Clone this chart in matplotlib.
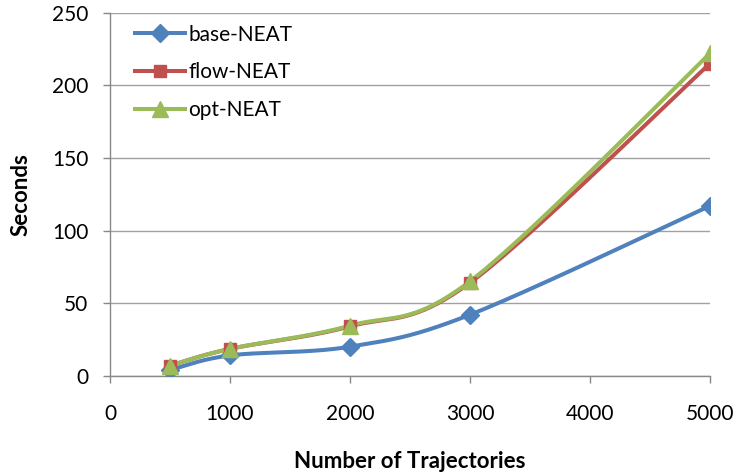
import numpy as np
import matplotlib
matplotlib.use("Agg")
import matplotlib.pyplot as plt
from matplotlib.lines import Line2D

plt.rcParams['font.family'] = ['Lato', 'DejaVu Sans']

trajectories = [500, 1000, 2000, 3000, 5000]
base_neat = [4, 14, 20, 42, 117]
flow_neat = [7, 18.5, 34, 64, 215]
opt_neat = [7, 18.5, 34.5, 65, 222]

x_ticks = [0, 1000, 2000, 3000, 4000, 5000]
y_ticks = [0, 50, 100, 150, 200, 250]

series = [
    ("base-NEAT", base_neat, "#4F81BD", "D", 9),
    ("flow-NEAT", flow_neat, "#C0504D", "s", 9),
    ("opt-NEAT", opt_neat, "#9BBB59", "^", 11),
]

fig = plt.figure(figsize=(7.36, 4.75), dpi=100)
ax = fig.add_axes([0.1495, 0.209, 0.815, 0.764])
ax.set_xlim(0, 5000)
ax.set_ylim(0, 250)

# Axis size in pixels, used to smooth the curves in screen space
w_px = 0.815 * 736
h_px = 0.764 * 475
sx = w_px / 5000.0
sy = h_px / 250.0


def smooth(xs, ys, n=40):
    p = np.column_stack([np.asarray(xs, float) * sx, np.asarray(ys, float) * sy])
    pts = np.vstack([p[0], p, p[-1]])
    out = []
    for i in range(1, len(pts) - 2):
        p0, p1, p2, p3 = pts[i - 1], pts[i], pts[i + 1], pts[i + 2]
        c1 = p1 + (p2 - p0) / 6.0
        c2 = p2 - (p3 - p1) / 6.0
        t = np.linspace(0, 1, n)[:, None]
        seg = ((1 - t) ** 3) * p1 + 3 * ((1 - t) ** 2) * t * c1 + 3 * (1 - t) * t ** 2 * c2 + t ** 3 * p2
        out.append(seg if i == 1 else seg[1:])
    out = np.vstack(out)
    return out[:, 0] / sx, out[:, 1] / sy


for label, vals, color, marker, ms in series:
    cx, cy = smooth(trajectories, vals)
    ax.plot(cx, cy, color=color, lw=2.9, solid_capstyle='round', zorder=3)
    ax.plot(trajectories, vals, linestyle='none', marker=marker, ms=ms,
            color=color, markeredgecolor=color, zorder=4)

ax.set_xticks(x_ticks)
ax.set_yticks(y_ticks)
ax.tick_params(axis='both', labelsize=15, colors='#888888', labelcolor='black',
               length=5, width=1, direction='out')
ax.tick_params(axis='y', pad=10.5)
ax.tick_params(axis='x', pad=15)
ax.yaxis.grid(True, color='#A0A0A0', lw=1)
ax.set_axisbelow(True)
for s in ['top', 'right']:
    ax.spines[s].set_visible(False)
for s in ['left', 'bottom']:
    ax.spines[s].set_color('#888888')
    ax.spines[s].set_linewidth(1)

ax.set_xlabel("Number of Trajectories", fontsize=16, fontweight='bold', labelpad=20)
ax.set_ylabel("Seconds", fontsize=16, fontweight='bold', labelpad=15)

handles = [Line2D([0], [0], color=c, lw=2.9, marker=m, ms=ms, markeredgecolor=c)
           for _, _, c, m, ms in series]
ax.legend(handles, [s[0] for s in series], loc='upper left', bbox_to_anchor=(0.028, 0.99),
          borderaxespad=0, frameon=False, fontsize=15, handlelength=2.4,
          handletextpad=0.15, labelspacing=0.85)

fig.savefig("out.png", dpi=100)
